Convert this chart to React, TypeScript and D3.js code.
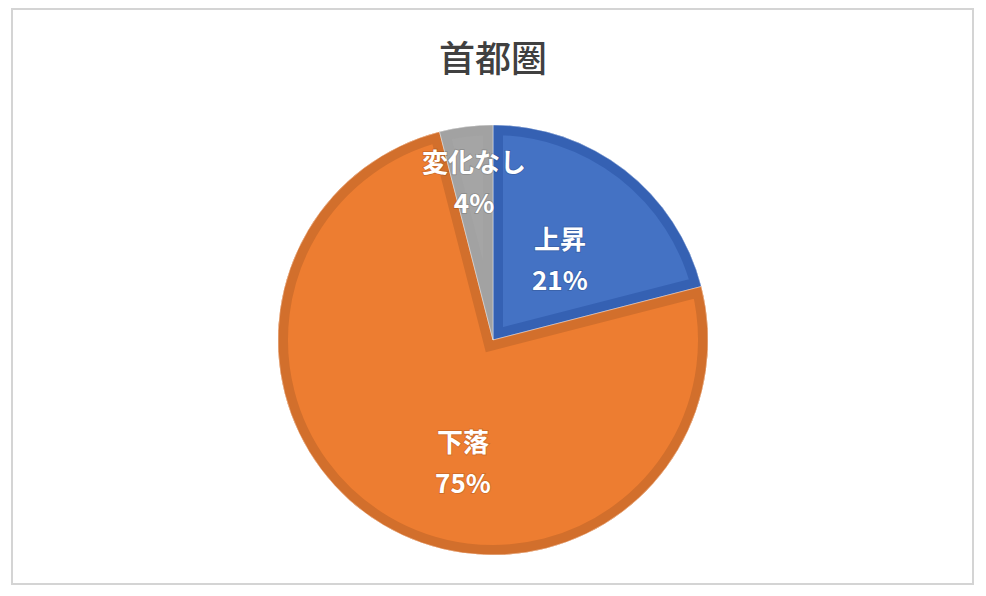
import * as d3 from "d3";
import { useEffect, useRef } from "react";

const title = "首都圏";
const categories = ["上昇", "下落", "変化なし"];
const values = [21, 75, 4];
const fills = ["#4472c4", "#ed7d31", "#a5a5a5"];
const bands = ["#3561b3", "#d26f2c", "#a2a2a2"];
// label anchor: fraction of radius, angle in degrees (clockwise from top)
const labelSpots = [
  [0.485, 39.9],
  [0.59, 193.7],
  [0.735, 353.1],
];

const App = () => {
  const svgRef = useRef(null);
  const width = 986;
  const height = 596;

  useEffect(() => {
    const svg = d3.select(svgRef.current);
    svg.selectAll("*").remove();

    svg
      .append("rect")
      .attr("x", 12)
      .attr("y", 9)
      .attr("width", 961)
      .attr("height", 575)
      .attr("fill", "#fff")
      .attr("stroke", "#d4d4d4")
      .attr("stroke-width", 2);

    svg
      .append("text")
      .attr("x", 493)
      .attr("y", 72)
      .attr("text-anchor", "middle")
      .attr("font-family", "'Noto Sans CJK JP', sans-serif")
      .attr("font-size", 36)
      .attr("font-weight", 500)
      .attr("fill", "#404040")
      .text(title);

    const cx = 493;
    const cy = 340;
    const r = 215;

    const pie = d3
      .pie<number>()
      .sort(null)
      .startAngle(0)
      .endAngle(2 * Math.PI)
      .value((d) => d);
    const arcs = pie(values);
    const arc = d3.arc<any>().innerRadius(0).outerRadius(r);

    const g = svg.append("g").attr("transform", `translate(${cx},${cy})`);
    const defs = svg.append("defs");

    arcs.forEach((a, i) => {
      const d = arc(a) as string;
      defs.append("clipPath").attr("id", "clip" + i).append("path").attr("d", d);
      g.append("path").attr("d", d).attr("fill", fills[i]);
      g.append("path")
        .attr("d", d)
        .attr("fill", "none")
        .attr("stroke", bands[i])
        .attr("stroke-width", 20)
        .attr("stroke-linejoin", "miter")
        .attr("stroke-miterlimit", 10)
        .attr("clip-path", `url(#clip${i})`);
      g.append("path")
        .attr("d", d)
        .attr("fill", "none")
        .attr("stroke", "#fff")
        .attr("stroke-opacity", 0.5)
        .attr("stroke-width", 0.8);
    });

    arcs.forEach((a, i) => {
      const [f, deg] = labelSpots[i];
      const th = (deg * Math.PI) / 180;
      const x = Math.sin(th) * r * f;
      const y = -Math.cos(th) * r * f;
      const pct = Math.round((a.value / d3.sum(values)) * 100) + "%";
      const t = g
        .append("text")
        .attr("text-anchor", "middle")
        .attr("font-family", "'Noto Sans CJK JP', sans-serif")
        .attr("font-weight", "bold")
        .attr("font-size", 26)
        .attr("fill", "#fff")
        .style("paint-order", "stroke")
        .attr("stroke", "rgba(0,0,0,0.12)")
        .attr("stroke-width", 2);
      t.append("tspan").attr("x", x).attr("y", y - 11).text(categories[i]);
      t.append("tspan").attr("x", x).attr("y", y + 30).text(pct);
    });
  }, []);

  return (
    <div style={{ position: "fixed", left: 0, top: 0, background: "#fff" }}>
      <svg width={width} height={height} ref={svgRef} style={{ display: "block" }} />
    </div>
  );
};

export default App;
